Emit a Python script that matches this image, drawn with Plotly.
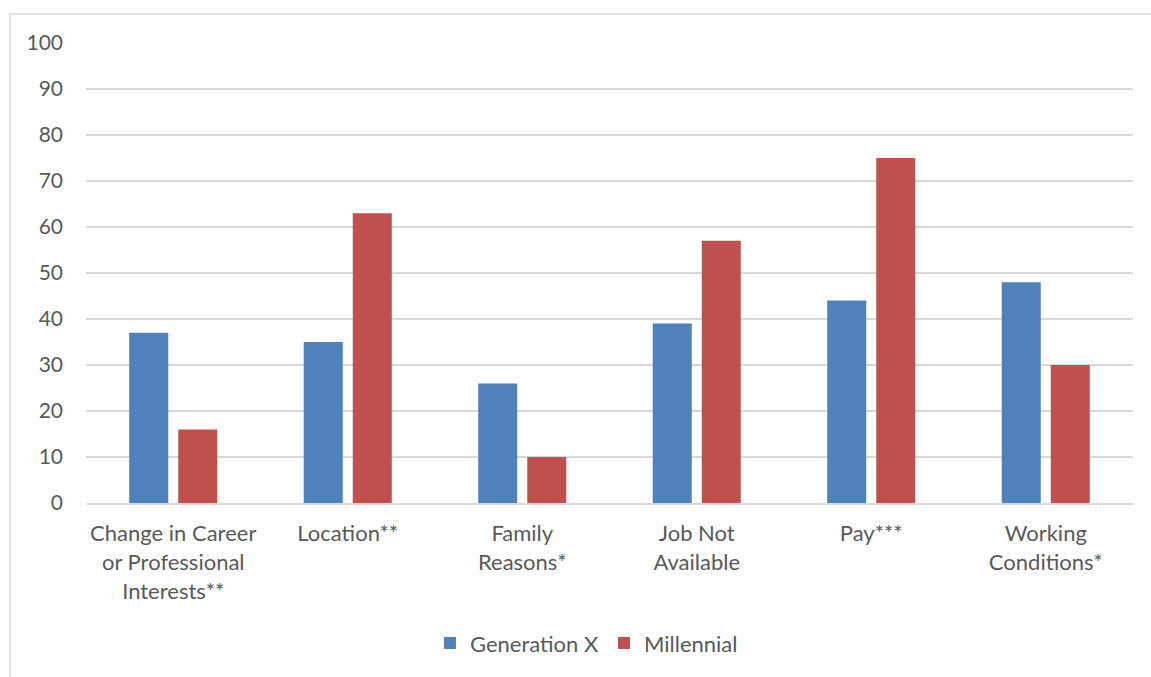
import plotly.graph_objects as go

categories = [
    "Change in Career<br>or Professional<br>Interests**",
    "Location**",
    "Family<br>Reasons*",
    "Job Not<br>Available",
    "Pay***",
    "Working<br>Conditions*",
]
gen_x = [37, 35, 26, 39, 44, 48]
millennial = [16, 63, 10, 57, 75, 30]
y_ticks = [0, 10, 20, 30, 40, 50, 60, 70, 80, 90, 100]

FONT = "Lato, 'Open Sans', sans-serif"
TEXT = "#595959"

fig = go.Figure()
fig.add_trace(go.Bar(name="Generation X", x=categories, y=gen_x,
                     marker=dict(color="#4F81BD", line=dict(width=0))))
fig.add_trace(go.Bar(name="Millennial", x=categories, y=millennial,
                     marker=dict(color="#C0504D", line=dict(width=0))))

fig.update_layout(
    width=1151, height=677,
    margin=dict(l=86, r=18, t=43, b=174, autoexpand=False),
    paper_bgcolor="white", plot_bgcolor="white",
    barmode="group", bargap=0.438, bargroupgap=0.204,
    font=dict(family=FONT, size=22, color=TEXT),
    showlegend=True,
    legend=dict(orientation="h", x=0.478, xanchor="center", y=-0.305, yanchor="middle",
                font=dict(family=FONT, size=22, color=TEXT),
                itemwidth=30, traceorder="normal"),
    xaxis=dict(showgrid=False, showline=True, linecolor="#D9D9D9", linewidth=2,
               ticks="", ticklabelstandoff=10, tickangle=0, automargin=False,
               tickfont=dict(family=FONT, size=22, color=TEXT)),
    yaxis=dict(range=[0, 100], tickvals=y_ticks, showgrid=True, gridcolor="#D9D9D9",
               gridwidth=1.5, zeroline=False, showline=False, ticks="",
               ticklabelstandoff=22, automargin=False,
               tickfont=dict(family=FONT, size=21, color=TEXT)),
    shapes=[dict(type="rect", xref="paper", yref="paper",
                 x0=-0.0726, x1=1.2, y0=-0.6, y1=1.063,
                 line=dict(color="#D9D9D9", width=1.5), fillcolor="rgba(0,0,0,0)",
                 layer="below")],
)

fig.write_html("out.html")
